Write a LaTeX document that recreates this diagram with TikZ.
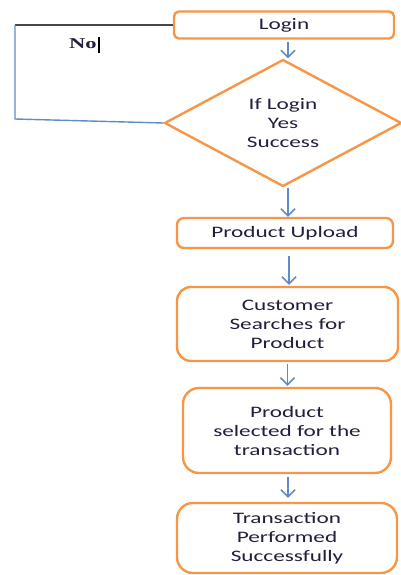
\documentclass[tikz,border=0pt]{standalone}
\usepackage{fontspec}
\setmainfont{Carlito}
\newfontfamily\noteface{Liberation Serif}
\usetikzlibrary{arrows.meta,shapes.geometric,calc}
\definecolor{boxorange}{RGB}{247,150,70}
\definecolor{flowblue}{RGB}{95,140,200}
\definecolor{inktext}{RGB}{35,30,60}
\definecolor{loopgray}{RGB}{70,70,70}
\tikzset{
  boxfont/.style={font=\fontsize{16}{19}\selectfont\addfontfeature{FakeStretch=1.45}},
  stepbox/.style={draw=boxorange, line width=2.4pt, fill=white, align=center,
    text=inktext, inner sep=0pt, boxfont},
  decision/.style={diamond, draw=boxorange, line width=2.4pt, align=center,
    text=inktext, inner sep=0pt, boxfont},
  flow/.style={draw=flowblue, line width=1.5pt, -{Straight Barb[length=7pt,width=14pt,line width=1.5pt]}},
  loopline/.style={line width=1.4pt}
}
\begin{document}
\begin{tikzpicture}[x=1pt,y=-1pt]
\useasboundingbox (0,0) rectangle (401,575);
\node[stepbox, rounded corners=5pt, minimum width=220pt, minimum height=27pt] (login) at (284,25) {Login};
\node[decision, minimum width=237pt, minimum height=127pt] (check) at (283,123) {If Login\\Yes\\Success};
\node[stepbox, rounded corners=7pt, minimum width=216pt, minimum height=30pt] (upload) at (285,233) {Product Upload};
\node[stepbox, rounded corners=14pt, minimum width=221pt, minimum height=74pt] (search) at (287.5,324) {Customer\\Searches for\\Product};
\node[stepbox, rounded corners=16pt, minimum width=208pt, minimum height=85pt] (select) at (287,430.5) {Product\\selected for the\\transaction};
\node[stepbox, rounded corners=16pt, minimum width=220pt, minimum height=70pt] (trans) at (287,538) {Transaction\\Performed\\Successfully};

% loop back for a failed login
\coordinate (corner) at (15,25);
\coordinate (lowcorner) at (15,119);
\draw[loopline, draw=loopgray] (login.west) -- (corner);
\draw[loopline, draw=flowblue] (corner) -- (lowcorner) -- (check.west);
\node[font=\noteface\bfseries\fontsize{15}{17}\selectfont\addfontfeature{FakeStretch=1.5}, text=inktext, anchor=base west, inner sep=0pt] (nolabel) at (69,49) {No};
\fill[black] ($(nolabel.base east)+(1,4)$) rectangle ++(2.2,-16);

% main flow
\draw[flow] (login.south -| check.north) ++(5,2) coordinate (a0) -- (a0 |- check.north);
\draw[flow] ($(check.south)+(5,0)$) coordinate (a1) -- (a1 |- upload.north);
\draw[flow] ($(upload.south)+(4,7)$) coordinate (a2) -- ($(a2 |- search.north)+(0,-1)$);
\draw[flow] ($(search.south)+(0,2)$) coordinate (a3) -- ($(a3 |- select.north)+(0,-1)$);
\draw[flow] ($(select.south)+(1,3)$) coordinate (a4) -- ($(a4 |- trans.north)+(0,-4)$);
\end{tikzpicture}
\end{document}
